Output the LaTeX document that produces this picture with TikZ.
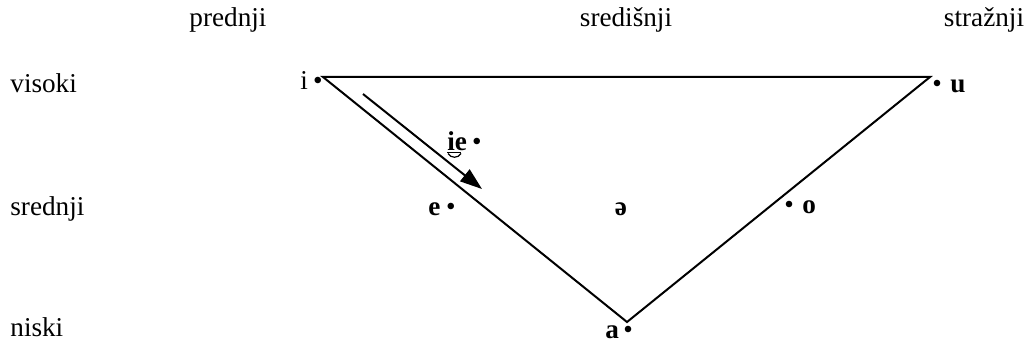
\documentclass[tikz,border=0pt]{standalone}
\usepackage{fontspec}
\setmainfont{Liberation Serif}
\usetikzlibrary{arrows.meta}
\begin{document}
\begin{tikzpicture}[x=0.5pt,y=-0.5pt,
  lbl/.style={inner sep=0pt,font=\fontsize{13.6}{16}\selectfont},
  vow/.style={inner sep=0pt,font=\fontsize{13.6}{16}\selectfont\bfseries},
  dot/.style={inner sep=0pt,anchor=base,font=\fontsize{13.6}{16}\selectfont},
  edge/.style={line width=1pt},
  arr/.style={line width=1pt,-{Triangle[length=11pt,width=7.5pt]}}]
\useasboundingbox (0,0) rectangle (1026,342);
% column headings
\node[lbl,anchor=base] (front) at (228,27) {prednji};
\node[lbl,anchor=base] (central) at (626,27) {središnji};
\node[lbl,anchor=base] (back) at (984,27) {stražnji};
% row labels
\node[lbl,anchor=base west] (high) at (10,92) {visoki};
\node[lbl,anchor=base west] (mid) at (10,215) {srednji};
\node[lbl,anchor=base west] (low) at (10,336) {niski};
% triangle
\coordinate (iv) at (323,77);
\coordinate (uv) at (930,77);
\coordinate (av) at (627,322);
\draw[edge,line join=miter] (iv) -- (uv) -- (av) -- cycle;
% vowels
\node[lbl,anchor=base west] (i) at (300,90) {i};
\node[dot] (idot) at (318,90) {•};
\node[vow,anchor=base west] (u) at (950,92) {u};
\node[dot] (udot) at (937,92) {•};
\node[vow,anchor=base west] (ie) at (447,150) {ie};
\node[dot] (iedot) at (477,150) {•};
\node[vow,anchor=base west] (e) at (428,215) {e};
\node[dot] (edot) at (451,215) {•};
\node[vow,anchor=base] (schwa) at (621,215) {ə};
\node[vow,anchor=base west] (o) at (802,213) {o};
\node[dot] (odot) at (789,213) {•};
\node[vow,anchor=base west] (a) at (605,338) {a};
\node[dot] (adot) at (628,338) {•};
% undertie under ie
\draw[line width=0.6pt] (447,152.5) -- (461,152.5);
\draw[line width=0.6pt] (448,153.5) .. controls (451,158.5) and (458,158.5) .. (461,153.5);
% arrow
\coordinate (as) at (363,94);
\coordinate (ae) at (482,189);
\draw[arr] (as) -- (ae);
\end{tikzpicture}
\end{document}
